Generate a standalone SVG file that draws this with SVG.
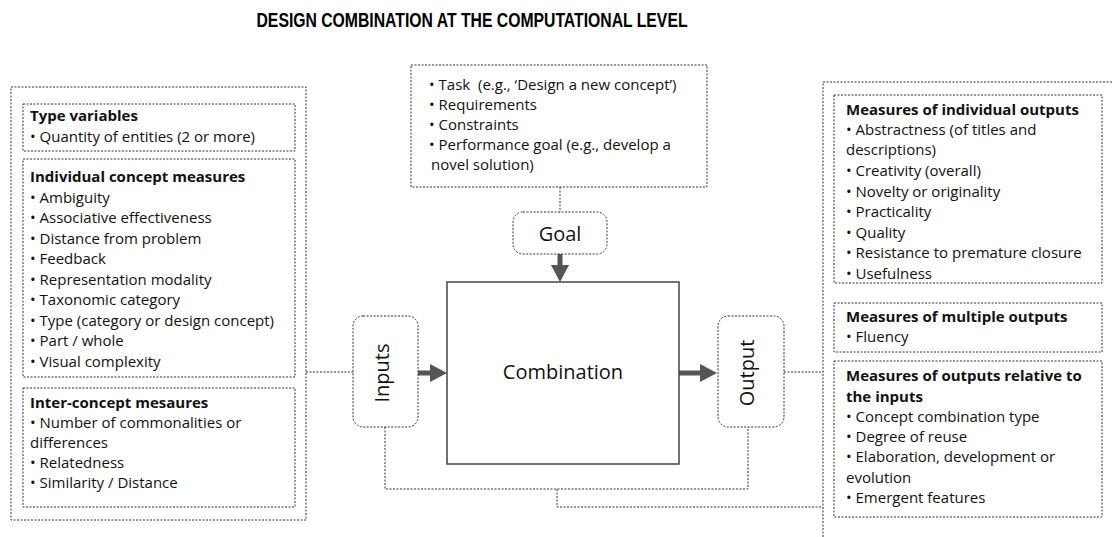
<svg xmlns="http://www.w3.org/2000/svg" width="1112" height="537" viewBox="0 0 1112 537">
<style>
.dot{fill:none;stroke:#333;stroke-width:1;stroke-dasharray:2 1.5}
.t{font-family:"Open Sans","Liberation Sans",sans-serif;font-size:15px;fill:#111}
.h{font-family:"Open Sans","Liberation Sans",sans-serif;font-size:15px;font-weight:bold;fill:#111}
.big{font-family:"Open Sans","Liberation Sans",sans-serif;font-size:20px;fill:#111}
.title{font-family:"Liberation Sans",Arial,sans-serif;font-size:21px;font-weight:bold;fill:#000}
.arr{stroke:#555;stroke-width:5;fill:none}
.head{fill:#555}
</style>
<rect width="1112" height="537" fill="#fff"/>
<text class="title" x="472" y="27" text-anchor="middle" textLength="431" lengthAdjust="spacingAndGlyphs">DESIGN COMBINATION AT THE COMPUTATIONAL LEVEL</text>

<g id="connectors">
<path class="dot" d="M306 372 H353"/>
<path class="dot" d="M784 372 H823"/>
<path class="dot" d="M560 187 V212"/>
<path class="dot" d="M385 427 V489 H748 V427"/>
<path class="dot" d="M557 489 V507 H823"/>
<line class="arr" x1="418" y1="373" x2="432" y2="373"/>
<polygon class="head" points="430,364 447,373 430,382"/>
<line class="arr" x1="679" y1="373" x2="702" y2="373"/>
<polygon class="head" points="700,364 717,373 700,382"/>
<line class="arr" x1="560" y1="254" x2="560" y2="267"/>
<polygon class="head" points="551,265 560,282 569,265"/>
</g>

<g id="left-panel">
<rect class="dot" x="11" y="87" width="295" height="433"/>
</g>
<g id="type-variables">
<rect class="dot" x="23" y="104" width="272" height="47"/>
<text class="h" x="30" y="121">Type variables</text>
<text class="t" x="30" y="142">• Quantity of entities (2 or more)</text>
</g>
<g id="individual-concept-measures">
<rect class="dot" x="23" y="159" width="272" height="218"/>
<text class="h" x="30" y="182">Individual concept measures</text>
<text class="t" x="30" y="203">• Ambiguity</text>
<text class="t" x="30" y="223">• Associative effectiveness</text>
<text class="t" x="30" y="244">• Distance from problem</text>
<text class="t" x="30" y="264">• Feedback</text>
<text class="t" x="30" y="285">• Representation modality</text>
<text class="t" x="30" y="305">• Taxonomic category</text>
<text class="t" x="30" y="326">• Type (category or design concept)</text>
<text class="t" x="30" y="346">• Part / whole</text>
<text class="t" x="30" y="367">• Visual complexity</text>
</g>
<g id="inter-concept-measures">
<rect class="dot" x="23" y="388" width="272" height="119"/>
<text class="h" x="30" y="408">Inter-concept mesaures</text>
<text class="t" x="30" y="428">• Number of commonalities or</text>
<text class="t" x="30" y="448">differences</text>
<text class="t" x="30" y="468">• Relatedness</text>
<text class="t" x="30" y="488">• Similarity / Distance</text>
</g>

<g id="goal-details">
<rect class="dot" x="411" y="65" width="296" height="122"/>
<text class="t" x="429" y="90" xml:space="preserve">• Task  (e.g., ‘Design a new concept’)</text>
<text class="t" x="429" y="110">• Requirements</text>
<text class="t" x="429" y="130">• Constraints</text>
<text class="t" x="429" y="150">• Performance goal (e.g., develop a</text>
<text class="t" x="431" y="170">novel solution)</text>
</g>
<g id="goal">
<rect class="dot" x="513" y="212" width="94" height="42" rx="10"/>
<text class="big" x="560" y="241" text-anchor="middle">Goal</text>
</g>
<g id="combination">
<rect x="447" y="282" width="232" height="182" fill="#fff" stroke="#444" stroke-width="1.5"/>
<text class="big" x="563" y="379" text-anchor="middle">Combination</text>
</g>
<g id="inputs">
<rect class="dot" x="353" y="316" width="65" height="111" rx="10"/>
<text class="big" x="0" y="0" text-anchor="middle" transform="translate(389 373) rotate(-90)">Inputs</text>
</g>
<g id="output">
<rect class="dot" x="718" y="316" width="66" height="111" rx="10"/>
<text class="big" x="0" y="0" text-anchor="middle" transform="translate(754 373) rotate(-90)">Output</text>
</g>

<g id="right-panel">
<path class="dot" d="M1112 82 H823 V537"/>
</g>
<g id="individual-outputs">
<rect class="dot" x="834" y="95" width="268" height="188"/>
<text class="h" x="846" y="115">Measures of individual outputs</text>
<text class="t" x="846" y="135">• Abstractness (of titles and</text>
<text class="t" x="846" y="155">descriptions)</text>
<text class="t" x="846" y="176">• Creativity (overall)</text>
<text class="t" x="846" y="197">• Novelty or originality</text>
<text class="t" x="846" y="217">• Practicality</text>
<text class="t" x="846" y="238">• Quality</text>
<text class="t" x="846" y="258">• Resistance to premature closure</text>
<text class="t" x="846" y="279">• Usefulness</text>
</g>
<g id="multiple-outputs">
<rect class="dot" x="834" y="303" width="268" height="49"/>
<text class="h" x="846" y="322">Measures of multiple outputs</text>
<text class="t" x="846" y="342">• Fluency</text>
</g>
<g id="relative-outputs">
<rect class="dot" x="834" y="361" width="268" height="156"/>
<text class="h" x="846" y="381">Measures of outputs relative to</text>
<text class="h" x="846" y="402">the inputs</text>
<text class="t" x="846" y="422">• Concept combination type</text>
<text class="t" x="846" y="442">• Degree of reuse</text>
<text class="t" x="846" y="462">• Elaboration, development or</text>
<text class="t" x="846" y="483">evolution</text>
<text class="t" x="846" y="503">• Emergent features</text>
</g>
</svg>
